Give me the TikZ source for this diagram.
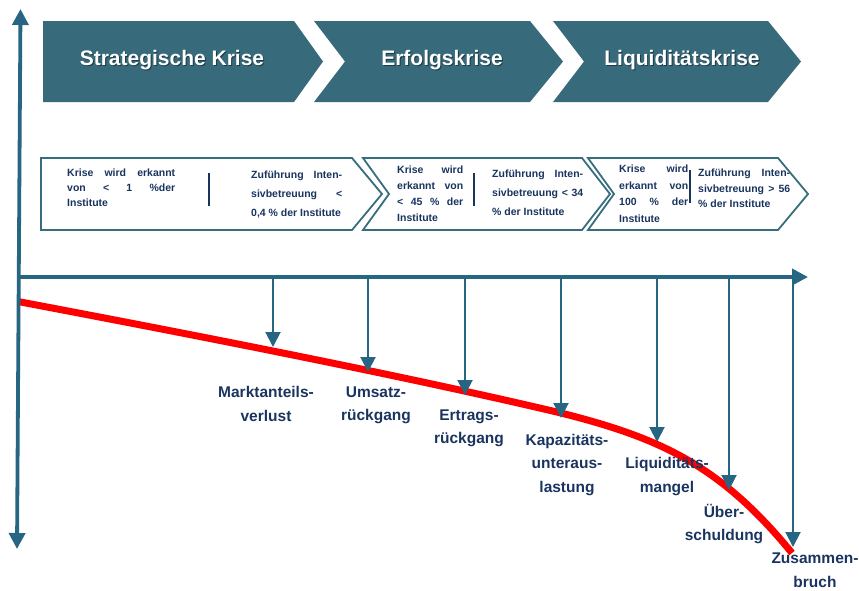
\documentclass[tikz,border=0pt]{standalone}
\usepackage{fontspec}
\setmainfont{Liberation Sans}
\usetikzlibrary{arrows.meta}
\definecolor{phasecol}{RGB}{55,106,123}
\definecolor{axiscol}{RGB}{38,102,130}
\definecolor{framecol}{RGB}{55,110,125}
\definecolor{navy}{RGB}{25,52,95}
\begin{document}
\begin{tikzpicture}[x=1pt,y=-1pt,
  phase/.style={fill=phasecol,draw=none},
  infobox/.style={draw=framecol,line width=1.8pt,fill=white,line join=miter},
  title/.style={font=\fontsize{21}{25}\selectfont\bfseries,text=white,inner sep=0,anchor=base},
  titleshadow/.style={title,text=black,text opacity=0.45},
  info/.style={font=\fontsize{10.5}{15}\selectfont\bfseries,text=navy,inner sep=0,anchor=north west,align=justify},
  sepline/.style={draw=navy,line width=1.8pt},
  axisline/.style={draw=axiscol,line width=3.8pt},
  axistip/.style={-{Triangle[length=16pt,width=16pt]}},
  marker/.style={draw=axiscol,line width=2pt,-{Triangle[length=15pt,width=15pt]}},
  stage/.style={font=\fontsize{15.5}{23.5}\selectfont\bfseries,text=navy,align=center,inner sep=0},
  crisis/.style={draw=red,line width=7pt}
]
\useasboundingbox (0,0) rectangle (859,590);

% top phase chevrons
\fill[phase] (43,21) -- (294,21) -- (323,61.5) -- (294,102) -- (43,102) -- cycle;
\fill[phase] (314,21) -- (530,21) -- (563,61.5) -- (530,102) -- (314,102) -- (345,61.5) -- cycle;
\fill[phase] (553,21) -- (768,21) -- (801,61.5) -- (768,102) -- (553,102) -- (584,61.5) -- cycle;
\node[titleshadow] (t1s) at (173,66.5) {Strategische Krise};
\node[title] (t1) at (172,65.5) {Strategische Krise};
\node[titleshadow] (t2s) at (443,66.5) {Erfolgskrise};
\node[title] (t2) at (442,65.5) {Erfolgskrise};
\node[titleshadow] (t3s) at (683,66.5) {Liquiditätskrise};
\node[title] (t3) at (682,65.5) {Liquiditätskrise};

% info chevrons
\draw[infobox] (41,158) -- (352,158) -- (382,194) -- (352,230) -- (41,230) -- cycle;
\draw[infobox] (363,158) -- (582,158) -- (610,194) -- (582,230) -- (363,230) -- (389,194) -- cycle;
\draw[infobox] (588,158) -- (778,158) -- (808,194) -- (778,230) -- (588,230) -- (614,194) -- cycle;

\node[info,text width=108pt] (i1a) at (67,168.5) {Krise wird erkannt\linebreak von < 1 \%der\linebreak Institute};
\coordinate (s1a) at (209,173); \coordinate (s1b) at (209,206);
\draw[sepline] (s1a) -- (s1b);
\node[info,text width=91pt,font=\fontsize{10.5}{19}\selectfont\bfseries] (i1b) at (251,171) {Zuführung Inten-\linebreak sivbetreuung <\linebreak 0,4 \% der Institute};

\node[info,text width=66pt,font=\fontsize{10.5}{16.2}\selectfont\bfseries] (i2a) at (397,165.5) {Krise wird\linebreak erkannt von\linebreak < 45 \% der\linebreak Institute};
\coordinate (s2a) at (474,173); \coordinate (s2b) at (474,206);
\draw[sepline] (s2a) -- (s2b);
\node[info,text width=91pt,font=\fontsize{10.5}{19}\selectfont\bfseries] (i2b) at (492,169.5) {Zuführung Inten-\linebreak sivbetreuung < 34\linebreak \% der Institute};

\node[info,text width=69pt,font=\fontsize{10.5}{16.5}\selectfont\bfseries] (i3a) at (619,165) {Krise wird\linebreak erkannt von\linebreak 100 \% der\linebreak Institute};
\coordinate (s3a) at (690,170); \coordinate (s3b) at (690,203);
\draw[sepline] (s3a) -- (s3b);
\node[info,text width=92pt,font=\fontsize{10.5}{15.5}\selectfont\bfseries] (i3b) at (698,169) {Zuführung Inten-\linebreak sivbetreuung > 56\linebreak \% der Institute};

% crisis curve
\coordinate (c0) at (18,301.5);
\coordinate (c1) at (561,413);
\coordinate (c2) at (792,553);
\draw[crisis] (c0) .. controls (200,336) and (400,375) .. (c1)
              .. controls (660,438) and (720,465) .. (c2);

% axes
\coordinate (top) at (20.5,9);
\coordinate (bottom) at (17,549);
\coordinate (origin) at (17,277);
\coordinate (xend) at (808,277);
\draw[axisline,{Triangle[length=16pt,width=16pt]}-{Triangle[length=16pt,width=16pt]}] (top) -- (bottom);
\draw[axisline,axistip] (origin) -- (xend);

% markers
\foreach \i/\x/\y in {1/273/347,2/368/372,3/465/395,4/561/418,5/657/442,6/729/490,7/793/547}{
  \coordinate (a\i) at (\x,277);
  \coordinate (p\i) at (\x,\y);
  \draw[marker] (a\i) -- (p\i);
}

% stage labels
\node[stage] (l1) at (266,404) {Marktanteils-\\verlust};
\node[stage] (l2) at (376,405.5) {Umsatz-\\rückgang};
\node[stage] (l3) at (469,428.5) {Ertrags-\\rückgang};
\node[stage] (l4) at (567,465) {Kapazitäts-\\unteraus-\\lastung};
\node[stage] (l5) at (667,476.5) {Liquiditäts-\\mangel};
\node[stage] (l6) at (724,524) {Über-\\schuldung};
\node[stage] (l7) at (815,570) {Zusammen-\\bruch};
\end{tikzpicture}
\end{document}
